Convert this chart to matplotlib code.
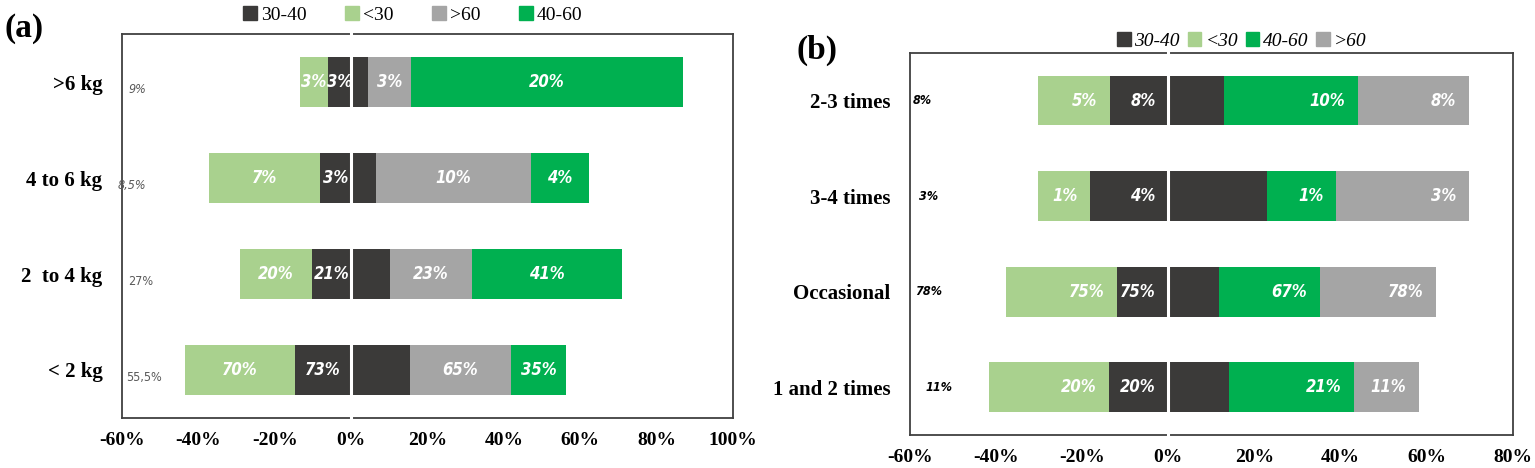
import matplotlib.pyplot as plt
import matplotlib
from matplotlib.patches import Patch
import numpy as np

matplotlib.rcParams['font.family'] = ['Liberation Serif', 'DejaVu Serif']

# colours
c_dark = '#3b3a39'
c_lt30 = '#a9d18e'
c_gt60 = '#a5a5a5'
c_4060 = '#00b050'

########## panel (a) data (bar widths in %, labels as printed)
a_cats = ['>6 kg', '4 to 6 kg', '2  to 4 kg', '< 2 kg']
a_lt30 = [7.4, 29.1, 18.9, 28.8]
a_3040_neg = [6.0, 8.1, 10.2, 14.7]
a_3040_pos = [4.5, 6.5, 10.2, 15.4]
a_gt60 = [11.2, 40.6, 21.5, 26.5]
a_4060 = [71.2, 15.2, 39.3, 14.4]
a_lab_lt30 = ['3%', '7%', '20%', '70%']
a_lab_3040 = ['3%', '3%', '21%', '73%']
a_lab_gt60 = ['3%', '10%', '23%', '65%']
a_lab_4060 = ['20%', '4%', '41%', '35%']
a_side = ['9%', '8,5%', '27%', '55,5%']

########## panel (b) data
b_cats = ['2-3 times', '3-4 times', 'Occasional', '1 and 2 times']
b_lt30 = [16.7, 12.1, 25.8, 27.8]
b_3040_neg = [13.6, 18.2, 11.9, 13.8]
b_3040_pos = [13.0, 22.9, 11.7, 14.1]
b_4060 = [31.0, 16.0, 23.5, 29.0]
b_gt60 = [25.8, 30.9, 26.9, 15.1]
b_lab_lt30 = ['5%', '1%', '75%', '20%']
b_lab_3040 = ['8%', '4%', '75%', '20%']
b_lab_4060 = ['10%', '1%', '67%', '21%']
b_lab_gt60 = ['8%', '3%', '78%', '11%']
b_side = ['8%', '3%', '78%', '11%']

fig = plt.figure(figsize=(15.35, 4.68), dpi=100)
axa = fig.add_axes([0.0795, 0.107, 0.398, 0.82])
axb = fig.add_axes([0.5928, 0.0705, 0.3928, 0.8165])

lab_font = dict(color='white', fontsize=12, fontweight='semibold', style='italic',
                family='DejaVu Sans', fontstretch='condensed')
h = 0.52


def seg(ax, left, width, color):
    ax.barh(np.arange(len(width)), width, left=left, height=h, color=color, linewidth=0)


def style_axis(ax, cats, xmin, xmax, step):
    ax.set_ylim(len(cats) - 0.5, -0.5)
    ax.set_xlim(xmin, xmax)
    ax.set_yticks(np.arange(len(cats)))
    ax.set_yticklabels(cats, fontsize=15, fontweight='bold')
    ticks = np.arange(xmin, xmax + 1, step)
    ax.set_xticks(ticks)
    ax.set_xticklabels(['%d%%' % t for t in ticks], fontsize=14, fontweight='bold')
    ax.tick_params(axis='x', length=0, pad=10)
    ax.tick_params(axis='y', length=0, pad=14)
    for s in ax.spines.values():
        s.set_color('#404040')
        s.set_linewidth(1.3)
    ax.axvline(0, color='white', lw=2.2, zorder=5, clip_on=False)


#### (a)
y = np.arange(4)
la = -np.array(a_3040_neg)
seg(axa, la - np.array(a_lt30), a_lt30, c_lt30)
seg(axa, la, a_3040_neg, c_dark)
seg(axa, 0, a_3040_pos, c_dark)
p1 = np.array(a_3040_pos)
seg(axa, p1, a_gt60, c_gt60)
p2 = p1 + np.array(a_gt60)
seg(axa, p2, a_4060, c_4060)

for i in y:
    axa.text(la[i] - a_lt30[i] / 2, i, a_lab_lt30[i], ha='center', va='center', **lab_font)
    axa.text(la[i] / 2, i, a_lab_3040[i], ha='center', va='center', **lab_font)
    axa.text(p1[i] + a_gt60[i] / 2, i, a_lab_gt60[i], ha='center', va='center', **lab_font)
    axa.text(p2[i] + a_4060[i] / 2, i, a_lab_4060[i], ha='center', va='center', **lab_font)

a_side_x = [-58.2, -61.2, -58.5, -59.0]
a_side_style = ['italic', 'italic', 'normal', 'normal']
for i in y:
    axa.text(a_side_x[i], i + 0.08, a_side[i], ha='left', va='center', fontsize=9,
             color='#595959', style=a_side_style[i], clip_on=False,
             family='DejaVu Sans', fontstretch='condensed')

style_axis(axa, a_cats, -60, 100, 20)

#### (b)
lb = -np.array(b_3040_neg)
seg(axb, lb - np.array(b_lt30), b_lt30, c_lt30)
seg(axb, lb, b_3040_neg, c_dark)
seg(axb, 0, b_3040_pos, c_dark)
q1 = np.array(b_3040_pos)
seg(axb, q1, b_4060, c_4060)
q2 = q1 + np.array(b_4060)
seg(axb, q2, b_gt60, c_gt60)

for i in y:
    for xr, t in [(lb[i], b_lab_lt30[i]), (0, b_lab_3040[i]),
                  (q2[i], b_lab_4060[i]), (q2[i] + b_gt60[i], b_lab_gt60[i])]:
        axb.annotate(t, (xr, i), xytext=(-9, 0), textcoords='offset points',
                     ha='right', va='center', **lab_font)

b_side_x = [-59.3, -57.9, -58.8, -56.5]
for i in y:
    axb.text(b_side_x[i], i, b_side[i], ha='left', va='center', fontsize=9,
             color='black', style='italic', fontweight='bold',
             family='DejaVu Sans', fontstretch='condensed')

style_axis(axb, b_cats, -60, 80, 20)

#### legends and panel letters
leg_a = [Patch(color=c_dark, label='30-40'), Patch(color=c_lt30, label='<30'),
         Patch(color=c_gt60, label='>60'), Patch(color=c_4060, label='40-60')]
fig.legend(handles=leg_a, loc='center', bbox_to_anchor=(0.269, 0.968), ncol=4,
           frameon=False, fontsize=14, handlelength=0.7, handleheight=0.7,
           handletextpad=0.2, columnspacing=2.0)

leg_b = [Patch(color=c_dark, label='30-40'), Patch(color=c_lt30, label='<30'),
         Patch(color=c_4060, label='40-60'), Patch(color=c_gt60, label='>60')]
fig.legend(handles=leg_b, loc='center', bbox_to_anchor=(0.809, 0.913), ncol=4,
           frameon=False, prop=dict(size=14, style='italic'), handlelength=0.7,
           handleheight=0.7, handletextpad=0.2, columnspacing=0.4)

fig.text(0.003, 0.94, '(a)', fontsize=24, fontweight='bold', va='center')
fig.text(0.519, 0.893, '(b)', fontsize=24, fontweight='bold', va='center')

fig.savefig('out.png', dpi=100)
